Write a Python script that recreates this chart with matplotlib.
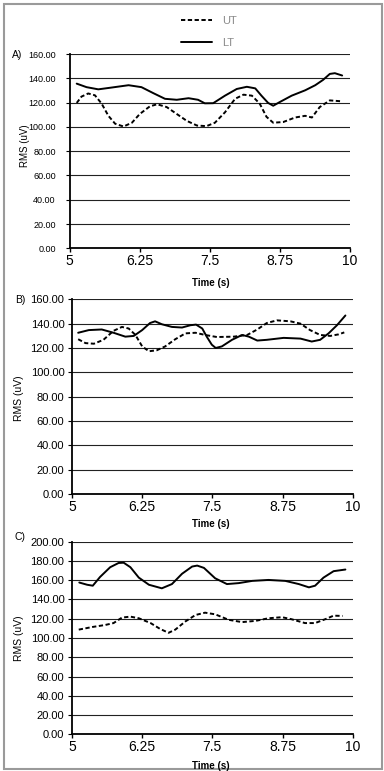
import matplotlib
matplotlib.use('Agg')
from matplotlib import pyplot as plt
from matplotlib.patches import Rectangle

plt.rcParams['font.family'] = ['Liberation Sans Narrow', 'Liberation Sans', 'DejaVu Sans']

# panel A
tA_lt = [5.125, 5.30, 5.51, 5.72, 6.05, 6.28, 6.49, 6.70, 6.91, 7.12, 7.29, 7.41, 7.56, 7.77, 7.98,
         8.16, 8.31, 8.42, 8.54, 8.63, 8.75, 8.96, 9.20, 9.38, 9.52, 9.64, 9.73, 9.86]
A_lt = [135.6, 132.7, 130.9, 132.2, 134.3, 132.7, 127.8, 123.1, 122.3, 123.6, 122.3, 119.4, 119.5, 125.7, 131.2,
        133.0, 131.7, 125.7, 119.7, 117.4, 120.5, 125.7, 130.1, 134.3, 138.7, 143.6, 144.2, 142.3]
tA_ut = [5.125, 5.21, 5.33, 5.45, 5.57, 5.69, 5.81, 5.96, 6.11, 6.25, 6.43, 6.56, 6.73, 6.91, 7.09,
         7.27, 7.44, 7.59, 7.77, 7.95, 8.10, 8.25, 8.39, 8.51, 8.63, 8.81, 9.02, 9.20, 9.32, 9.46,
         9.64, 9.86]
A_ut = [119.7, 124.9, 127.5, 126.0, 119.1, 109.1, 102.6, 100.3, 103.4, 110.6, 116.9, 118.6, 116.3, 110.6, 104.9,
        101.1, 100.6, 103.4, 112.0, 123.1, 126.5, 125.7, 119.1, 108.3, 103.4, 104.0, 107.7, 109.1, 107.7, 116.3,
        121.8, 121.0]

# panel B
tB_lt = [5.11, 5.30, 5.53, 5.74, 5.95, 6.10, 6.25, 6.39, 6.48, 6.60, 6.78, 6.96, 7.11, 7.21, 7.32,
         7.40, 7.49, 7.56, 7.67, 7.85, 8.03, 8.15, 8.30, 8.47, 8.77, 9.07, 9.27, 9.42, 9.57, 9.72,
         9.87]
B_lt = [132.5, 134.7, 135.2, 132.5, 129.3, 129.9, 134.7, 140.5, 141.9, 139.5, 137.3, 136.8, 138.7, 139.2, 136.0,
        129.3, 122.7, 120.0, 121.3, 126.7, 130.7, 129.3, 126.1, 126.7, 128.3, 127.7, 125.3, 126.7, 132.0, 138.7,
        146.7]
tB_ut = [5.11, 5.24, 5.39, 5.56, 5.74, 5.89, 6.01, 6.13, 6.25, 6.37, 6.51, 6.66, 6.84, 7.02, 7.20,
         7.37, 7.58, 7.88, 8.12, 8.30, 8.47, 8.65, 8.89, 9.07, 9.24, 9.42, 9.60, 9.75, 9.85]
B_ut = [127.2, 124.0, 123.5, 126.7, 134.1, 137.3, 136.0, 130.7, 121.3, 117.3, 118.1, 121.3, 127.2, 132.0, 132.5,
        130.7, 129.0, 129.3, 130.7, 135.2, 140.5, 142.7, 141.9, 140.0, 134.7, 130.7, 129.9, 131.2, 132.8]

# panel C
tC_lt = [5.13, 5.27, 5.37, 5.50, 5.68, 5.83, 5.92, 6.04, 6.19, 6.37, 6.60, 6.78, 6.96, 7.14, 7.23,
         7.35, 7.55, 7.76, 7.97, 8.21, 8.50, 8.80, 9.04, 9.22, 9.33, 9.48, 9.66, 9.87]
C_lt = [157.6, 155.3, 154.3, 163.4, 173.5, 177.9, 178.2, 173.5, 162.7, 155.3, 151.6, 156.0, 166.7, 174.2, 175.2,
        172.8, 162.0, 156.0, 157.0, 159.3, 160.3, 159.3, 156.0, 152.6, 154.3, 162.7, 169.4, 171.1]
tC_ut = [5.12, 5.36, 5.59, 5.74, 5.89, 6.04, 6.19, 6.40, 6.57, 6.72, 6.84, 7.02, 7.20, 7.37, 7.55,
         7.79, 8.03, 8.27, 8.50, 8.74, 8.91, 9.15, 9.33, 9.51, 9.66, 9.82]
C_ut = [108.7, 111.4, 113.5, 115.5, 121.2, 122.2, 120.5, 115.5, 109.4, 105.4, 108.7, 117.2, 123.9, 126.3, 124.6,
        118.9, 116.5, 117.8, 120.5, 121.6, 119.5, 115.5, 115.5, 119.5, 123.2, 122.9]

xticks = [5, 6.25, 7.5, 8.75, 10]
xtick_labels = ['5', '6.25', '7.5', '8.75', '10']

W, H = 384, 771
fig = plt.figure(figsize=(W / 100, H / 100), dpi=100)

def px(x, y):
    return x / W, 1 - y / H

def panel(left, top, right, bottom, ymax, pad, ysize):
    ax = fig.add_axes([left / W, 1 - bottom / H, (right - left) / W, (bottom - top) / H])
    ax.set_xlim(5, 10)
    ax.set_ylim(0, ymax)
    ax.set_yticks(range(0, ymax + 1, 20))
    ax.set_yticklabels(['%.2f' % v for v in range(0, ymax + 1, 20)], fontsize=ysize)
    ax.set_xticks(xticks)
    ax.set_xticklabels(xtick_labels, fontsize=10)
    ax.yaxis.grid(True, color='#222222', linewidth=0.8)
    ax.set_axisbelow(True)
    for s in ['top', 'right']:
        ax.spines[s].set_visible(False)
    ax.spines['left'].set_linewidth(1.3)
    ax.spines['bottom'].set_linewidth(1.3)
    ax.tick_params(axis='y', length=3, width=0.8, pad=pad)
    ax.tick_params(axis='x', length=3, width=1, pad=1)
    return ax

axA = panel(69.7, 54, 350, 248.3, 160, 7, 6.5)
axB = panel(72, 299.3, 352.7, 494, 160, 2.5, 8)
axC = panel(72, 541.7, 352.7, 734.3, 200, 2.5, 8)

dash = (0, (2.2, 1.3))
kw = dict(color='black', lw=1.4, solid_joinstyle='round', solid_capstyle='round')
l_ut, = axA.plot(tA_ut, A_ut, linestyle=dash, **kw)
l_lt, = axA.plot(tA_lt, A_lt, **kw)
axB.plot(tB_ut, B_ut, linestyle=dash, **kw)
axB.plot(tB_lt, B_lt, **kw)
axC.plot(tC_ut, C_ut, linestyle=dash, **kw)
axC.plot(tC_lt, C_lt, **kw)

leg = fig.legend([l_ut, l_lt], ['UT', 'LT'], loc='upper left', bbox_to_anchor=px(181, 16),
                 frameon=False, fontsize=8, handlelength=2.8, handletextpad=0.9,
                 labelspacing=1.05, borderpad=0, borderaxespad=0)
for t in leg.get_texts():
    t.set_color('#8a8a8a')

# oznake panela i osi
fig.text(*px(17, 55), 'A)', fontsize=7.5, ha='center', va='center')
fig.text(*px(20, 300), 'B)', fontsize=7.5, ha='center', va='center')
fig.text(*px(20, 537), 'C)', fontsize=7.5, ha='center', va='center')
for y in [282.5, 524, 766]:
    fig.text(*px(211, y), 'Time (s)', fontsize=7, fontweight='bold', ha='center', va='center')
fig.text(*px(25, 146), 'RMS (uV)', fontsize=7, rotation=90, ha='center', va='center')
fig.text(*px(19.5, 398), 'RMS (uV)', fontsize=7.5, rotation=90, ha='center', va='center')
fig.text(*px(19.5, 638), 'RMS (uV)', fontsize=7.5, rotation=90, ha='center', va='center')

fig.patches.append(Rectangle(px(4, 769), 378 / W, 765 / H, transform=fig.transFigure,
                             fill=False, edgecolor='#9a9a9a', linewidth=1.5))

fig.savefig('out.png', dpi=100)
